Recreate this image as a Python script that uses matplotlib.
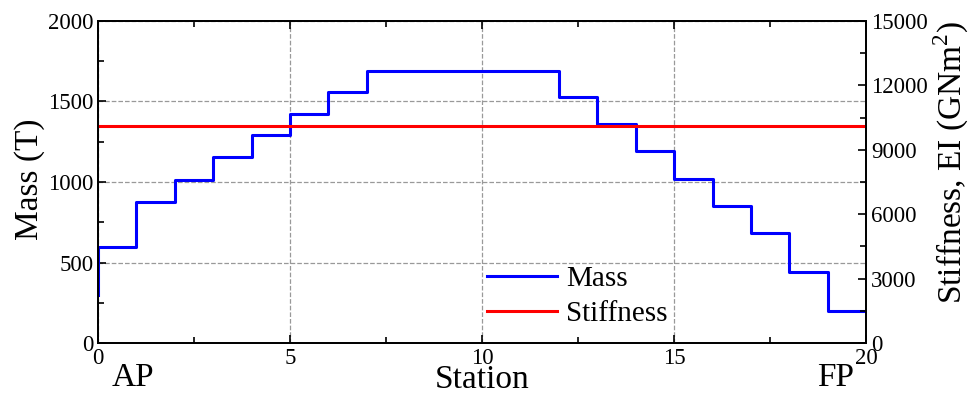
import numpy as np
import matplotlib.pyplot as plt
from matplotlib.ticker import MultipleLocator

plt.rcParams['font.family'] = ['Liberation Serif', 'DejaVu Serif']
plt.rcParams['mathtext.fontset'] = 'custom'
plt.rcParams['mathtext.rm'] = 'Liberation Serif'

# stations en massa per sectie (steps-pre)
station = list(range(21))
mass = [300, 595, 878, 1015, 1155, 1290, 1425, 1558, 1690, 1690, 1690, 1690,
        1690, 1527, 1362, 1192, 1020, 853, 682, 440, 198]
stiffness = 10100  # GNm^2, constant over de lengte

fig, ax = plt.subplots(figsize=(9.71, 3.94), dpi=100)
fig.subplots_adjust(left=0.101, right=0.892, top=0.947, bottom=0.129)

l1, = ax.plot(station, mass, drawstyle='steps-pre', color='#0000ff', lw=2.2, label='Mass')

ax2 = ax.twinx()
l2, = ax2.plot([0, 20], [stiffness, stiffness], color='#ff0000', lw=2.2, label='Stiffness')

ax.set_xlim(0, 20)
ax.set_ylim(0, 2000)
ax2.set_ylim(0, 15000)

ax.xaxis.set_major_locator(MultipleLocator(5))
ax.xaxis.set_minor_locator(MultipleLocator(2.5))
ax.yaxis.set_major_locator(MultipleLocator(500))
ax.yaxis.set_minor_locator(MultipleLocator(250))
ax2.yaxis.set_major_locator(MultipleLocator(3000))
ax2.yaxis.set_minor_locator(MultipleLocator(1500))

ax.tick_params(which='both', direction='in', top=True, labelsize=16.5, width=1.2)
ax.tick_params(which='major', length=6)
ax.tick_params(which='minor', length=4)
ax2.tick_params(which='both', direction='in', labelsize=16.5, width=1.2)
ax2.tick_params(which='major', length=6)
ax2.tick_params(which='minor', length=4)

ax.grid(True, which='major', linestyle='--', color='#999999', lw=0.9)
for sp in list(ax.spines.values()) + list(ax2.spines.values()):
    sp.set_linewidth(1.3)

ax.set_ylabel('Mass (T)', fontsize=24, labelpad=2)
ax.yaxis.label.set_y(0.51)
ax.set_xlabel('Station', fontsize=24, labelpad=-3)
ax2.set_ylabel('Stiffness, EI (GNm$^2$)', fontsize=24, labelpad=3)
ax2.yaxis.label.set_y(0.56)

ax.text(0.017, -0.06, 'AP', transform=ax.transAxes, fontsize=24, va='top', ha='left')
ax.text(0.936, -0.06, 'FP', transform=ax.transAxes, fontsize=24, va='top', ha='left')

ax.legend(handles=[l1, l2], loc='lower left', bbox_to_anchor=(0.484, -0.005),
          frameon=False, fontsize=21, handlelength=2.4, handletextpad=0.3,
          labelspacing=0.3, borderaxespad=0.2)

fig.savefig('out.png')
